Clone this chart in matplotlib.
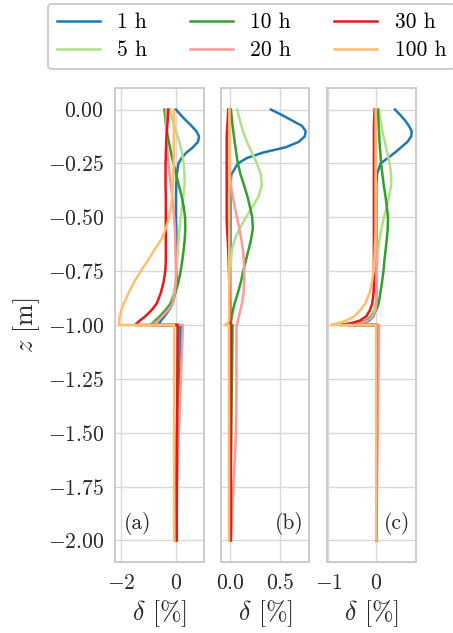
import matplotlib.pyplot as plt
import numpy as np

# Computer Modern look for text and math
plt.rcParams.update({
    'font.family': 'serif',
    'font.serif': ['cmr10'],
    'mathtext.fontset': 'cm',
    'axes.formatter.use_mathtext': True,
    'axes.unicode_minus': True,
    'axes.edgecolor': '0.8',
    'axes.linewidth': 1.4,
    'axes.grid': True,
    'grid.color': '0.85',
    'grid.linewidth': 1.0,
    'xtick.major.size': 0,
    'ytick.major.size': 0,
    'xtick.major.pad': 8,
    'ytick.major.pad': 8,
    'xtick.color': '0.15',
    'ytick.color': '0.15',
    'xtick.labelsize': 15.5,
    'ytick.labelsize': 15.5,
    'axes.labelsize': 18.6,
    'axes.labelcolor': '0.15',
})

# Depth: upper layer (0 .. -1 m) and lower layer (-1 .. -2 m)
z_top = [0.0, -0.025, -0.05, -0.075, -0.1, -0.125, -0.15, -0.175, -0.2, -0.225,
         -0.25, -0.3, -0.35, -0.4, -0.45, -0.5, -0.55, -0.6, -0.65, -0.7,
         -0.75, -0.8, -0.85, -0.9, -0.93, -0.96, -0.98, -0.99, -1.0]
z_bot = [-1.0, -1.25, -1.5, -1.75, -2.0]
z = z_top + z_bot

hours = ['1 h', '5 h', '10 h', '20 h', '30 h', '100 h']
colors = ['#1f78b4', '#b2df8a', '#33a02c', '#fb9a99', '#e31a1c', '#fdbf6f']

# (a)
a_1h = [0.0, 0.17, 0.36, 0.56, 0.74, 0.84, 0.80, 0.62, 0.38, 0.20, 0.09,
        0.03, 0.01, 0.0, 0.0, 0.0, 0.01, 0.02, 0.03, 0.03, 0.03, 0.02, -0.03, -0.12,
        -0.25, -0.42, -0.55, -0.60, -0.66,
        0.18, 0.12, 0.05, 0.02, 0.0]
a_5h = [-0.22, -0.17, -0.12, -0.06, 0.0, 0.06, 0.12, 0.17, 0.22, 0.25, 0.28,
        0.31, 0.31, 0.27, 0.22, 0.17, 0.13, 0.10, 0.07, 0.04, 0.02, -0.01, -0.08, -0.22,
        -0.40, -0.62, -0.80, -0.88, -0.95,
        0.10, 0.06, 0.03, 0.01, 0.0]
a_10h = [-0.42, -0.40, -0.38, -0.36, -0.33, -0.30, -0.26, -0.22, -0.18, -0.14, -0.09,
         0.0, 0.10, 0.20, 0.28, 0.33, 0.34, 0.32, 0.28, 0.23, 0.17, 0.09, -0.02, -0.18,
         -0.36, -0.57, -0.74, -0.81, -0.88,
         0.10, 0.07, 0.03, 0.01, 0.0]
a_20h = [-0.36, -0.36, -0.36, -0.36, -0.36, -0.35, -0.34, -0.33, -0.31, -0.29, -0.27,
         -0.23, -0.19, -0.14, -0.10, -0.07, -0.04, -0.03, -0.02, -0.01, 0.0, -0.01, -0.04, -0.12,
         -0.28, -0.50, -0.66, -0.75, -0.83,
         0.25, 0.18, 0.10, 0.04, 0.01]
a_30h = [-0.28, -0.29, -0.30, -0.32, -0.33, -0.34, -0.36, -0.36, -0.37, -0.37, -0.38,
         -0.38, -0.38, -0.37, -0.37, -0.37, -0.37, -0.37, -0.37, -0.37, -0.39, -0.45, -0.55, -0.70,
         -0.88, -1.12, -1.32, -1.41, -1.49,
         0.06, 0.05, 0.04, 0.03, 0.03]
a_100h = [-0.08] * 11 + \
         [-0.10, -0.11, -0.14, -0.18, -0.26, -0.36, -0.52, -0.78, -1.02, -1.28, -1.52, -1.72, -1.90,
          -1.99, -2.05, -2.07, -2.07, -2.05,
          -0.07, -0.07, -0.07, -0.07, -0.07]

# (b)
b_1h = [0.41, 0.52, 0.62, 0.72, 0.76, 0.75, 0.69, 0.56, 0.33, 0.17, 0.08,
        0.015] + [0.005] * 17 + \
       [0.01, 0.008, 0.005, 0.003, 0.0]
b_5h = [0.073, 0.085, 0.10, 0.115, 0.13, 0.15, 0.17, 0.195, 0.22, 0.245, 0.27,
        0.31, 0.32, 0.29, 0.23, 0.16, 0.10, 0.05, 0.02, 0.01] + [0.005] * 9 + \
       [0.01, 0.008, 0.005, 0.003, 0.0]
b_10h = [0.01, 0.015, 0.02, 0.026, 0.033, 0.04, 0.047, 0.055, 0.063, 0.07, 0.08,
         0.105, 0.14, 0.173, 0.20, 0.223, 0.23, 0.213, 0.187, 0.16, 0.133, 0.11, 0.08, 0.047,
         0.03, 0.018, 0.012, 0.01, 0.01,
         0.026, 0.02, 0.012, 0.006, 0.002]
b_20h = [-0.007] * 11 + \
        [0.0, 0.01, 0.027, 0.047, 0.07, 0.093, 0.113, 0.13, 0.14, 0.143, 0.142, 0.137, 0.12,
         0.105, 0.09, 0.08, 0.075, 0.07,
         0.065, 0.065, 0.06, 0.035, 0.008]
b_30h = [-0.017, -0.02, -0.023, -0.026, -0.03, -0.033, -0.033, -0.033, -0.033, -0.033, -0.033,
         -0.033, -0.033, -0.033, -0.033, -0.033, -0.03, -0.023, -0.018, -0.013, -0.01, -0.007, -0.003, 0.0,
         0.0, 0.0, 0.0, 0.0, 0.0,
         0.01, 0.01, 0.01, 0.01, 0.01]
b_100h = [-0.007] * 26 + [-0.01, -0.02, -0.05] + [-0.01] * 5

# (c)
c_1h = [0.39, 0.50, 0.60, 0.68, 0.74, 0.73, 0.65, 0.52, 0.39, 0.24, 0.09,
        0.015] + [0.0] * 12 + \
       [-0.015, -0.06, -0.15, -0.27, -0.45,
        0.02, 0.015, 0.01, 0.005, 0.0]
c_5h = [0.056, 0.07, 0.09, 0.11, 0.127, 0.15, 0.18, 0.20, 0.23, 0.255, 0.28,
        0.31, 0.31, 0.27, 0.22, 0.16, 0.11, 0.07, 0.04, 0.02, 0.01, 0.007, 0.0, -0.014,
        -0.05, -0.13, -0.25, -0.38, -0.58,
        0.01, 0.008, 0.005, 0.003, 0.0]
c_10h = [0.035, 0.04, 0.045, 0.05, 0.056, 0.062, 0.068, 0.075, 0.085, 0.092, 0.10,
         0.127, 0.155, 0.19, 0.22, 0.245, 0.24, 0.22, 0.195, 0.17, 0.15, 0.12, 0.085, 0.05,
         0.0, -0.085, -0.21, -0.35, -0.55,
         0.02, 0.015, 0.01, 0.005, 0.0]
c_20h = [-0.02] + [-0.014] * 17 + [-0.007] + [0.0] * 5 + \
        [-0.014, -0.07, -0.18, -0.30, -0.50,
         0.06, 0.045, 0.03, 0.015, 0.003]
c_30h = [-0.035, -0.04, -0.045] + [-0.05] * 19 + [-0.056, -0.085] + \
        [-0.13, -0.21, -0.35, -0.50, -0.75,
         0.005, 0.005, 0.004, 0.003, 0.002]
c_100h = [-0.014] * 17 + [-0.02, -0.03, -0.04, -0.056, -0.09, -0.14, -0.23] + \
         [-0.33, -0.46, -0.63, -0.78, -0.95] + [0.0] * 5

panels = [
    ([a_1h, a_5h, a_10h, a_20h, a_30h, a_100h], '(a)'),
    ([b_1h, b_5h, b_10h, b_20h, b_30h, b_100h], '(b)'),
    ([c_1h, c_5h, c_10h, c_20h, c_30h, c_100h], '(c)'),
]


def math_fmt(fmt):
    # tick text through mathtext so the minus sign comes out right
    return plt.FuncFormatter(lambda v, pos: '$' + (fmt % v) + '$')


W, H = 453, 633
fig = plt.figure(figsize=(W / 100, H / 100), dpi=100)

# axes boxes in pixels: (left, right)
boxes = [(115, 204), (221, 309), (327, 416)]
top, bottom = 88, 562
xlims = [(-2.22, 1.02), (-0.09, 0.793), (-1.03, 0.83)]
xticks = [[-2, 0], [0.0, 0.5], [-1, 0]]
xfmt = ['%d', '%.1f', '%d']

axes = []
for i, (l, r) in enumerate(boxes):
    ax = fig.add_axes([l / W, 1 - bottom / H, (r - l) / W, (bottom - top) / H],
                      sharey=axes[0] if axes else None)
    axes.append(ax)

for i, (ax, (series, tag)) in enumerate(zip(axes, panels)):
    for s, c, h in zip(series, colors, hours):
        ax.plot(s, z, color=c, lw=1.8, label=h)
    ax.set_xlim(*xlims[i])
    ax.set_xticks(xticks[i])
    ax.xaxis.set_major_formatter(math_fmt(xfmt[i]))
    ax.set_xlabel(r'$\delta$ [%]')
    if i == 0:
        ax.text(0.10, 0.082, tag, transform=ax.transAxes, ha='left', va='center',
                fontsize=15.5, color='0.15')
    else:
        ax.text(0.94, 0.082, tag, transform=ax.transAxes, ha='right', va='center',
                fontsize=15.5, color='0.15')
        ax.tick_params(axis='y', labelleft=False)

axes[0].set_ylim(-2.1, 0.1)
axes[0].set_yticks(np.arange(-2.0, 0.01, 0.25))
axes[0].yaxis.set_major_formatter(math_fmt('%.2f'))
axes[0].set_ylabel(r'$z$ [m]')

handles, labels = axes[0].get_legend_handles_labels()
leg = fig.legend(handles, labels, ncol=3, loc='upper left',
                 bbox_to_anchor=(48 / W, 1 - 4 / H), borderaxespad=0,
                 fontsize=15.5, labelspacing=0.4, edgecolor='0.8', framealpha=1.0)
leg.get_frame().set_linewidth(1.4)

fig.savefig('out.png', dpi=100)
